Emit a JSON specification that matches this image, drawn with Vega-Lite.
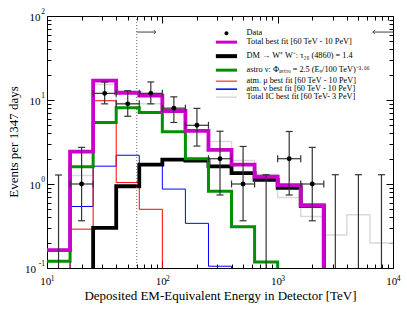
{
  "$schema": "https://vega.github.io/schema/vega-lite/v6.json",
  "width": 346,
  "height": 252,
  "autosize": "none",
  "padding": {"left": 47, "top": 16, "right": 14, "bottom": 47},
  "config": {
    "view": {"stroke": "black", "strokeWidth": 1},
    "font": "Liberation Serif",
    "axis": {"grid": false, "domain": false, "labelFont": "Liberation Serif", "titleFont": "Liberation Serif", "labelColor": "black", "tickColor": "black", "tickWidth": 1, "labelFlush": false, "labelOverlap": false, "labelBound": false}
  },
  "datasets": {
    "hist": [
      {"series": "IC", "E": 10, "events": 0.165}, {"series": "IC", "E": 15.85, "events": 1.26}, {"series": "IC", "E": 25.12, "events": 15.3}, {"series": "IC", "E": 39.81, "events": 9.1}, {"series": "IC", "E": 63.1, "events": 9.0}, {"series": "IC", "E": 100, "events": 7.8}, {"series": "IC", "E": 158.5, "events": 4.4}, {"series": "IC", "E": 251.2, "events": 3.2}, {"series": "IC", "E": 398.1, "events": 1.9}, {"series": "IC", "E": 631, "events": 1.3}, {"series": "IC", "E": 1000, "events": 0.69}, {"series": "IC", "E": 1585, "events": 0.41}, {"series": "IC", "E": 2512, "events": 0.247}, {"series": "IC", "E": 3981, "events": 0.43}, {"series": "IC", "E": 6310, "events": 0.198}, {"series": "IC", "E": 10000, "events": 0.198},
      {"series": "nu", "E": 10, "events": 0.01}, {"series": "nu", "E": 15.85, "events": 0.54}, {"series": "nu", "E": 25.12, "events": 1.63}, {"series": "nu", "E": 39.81, "events": 2.2}, {"series": "nu", "E": 63.1, "events": 1.68}, {"series": "nu", "E": 100, "events": 0.87}, {"series": "nu", "E": 158.5, "events": 0.34}, {"series": "nu", "E": 251.2, "events": 0.105}, {"series": "nu", "E": 398.1, "events": 0.01},
      {"series": "mu", "E": 10, "events": 0.01}, {"series": "mu", "E": 15.85, "events": 0.29}, {"series": "mu", "E": 25.12, "events": 9.8}, {"series": "mu", "E": 39.81, "events": 1.04}, {"series": "mu", "E": 63.1, "events": 0.5}, {"series": "mu", "E": 100, "events": 0.01},
      {"series": "astro", "E": 10, "events": 0.12}, {"series": "astro", "E": 15.85, "events": 1.61}, {"series": "astro", "E": 25.12, "events": 5.4}, {"series": "astro", "E": 39.81, "events": 8.1}, {"series": "astro", "E": 63.1, "events": 7.1}, {"series": "astro", "E": 100, "events": 4.2}, {"series": "astro", "E": 158.5, "events": 2.0}, {"series": "astro", "E": 251.2, "events": 0.82}, {"series": "astro", "E": 398.1, "events": 0.31}, {"series": "astro", "E": 631, "events": 0.118}, {"series": "astro", "E": 1000, "events": 0.01},
      {"series": "DM", "E": 15.85, "events": 0.01}, {"series": "DM", "E": 25.12, "events": 0.3}, {"series": "DM", "E": 39.81, "events": 0.94}, {"series": "DM", "E": 63.1, "events": 1.7}, {"series": "DM", "E": 100, "events": 1.95}, {"series": "DM", "E": 158.5, "events": 1.9}, {"series": "DM", "E": 251.2, "events": 1.62}, {"series": "DM", "E": 398.1, "events": 1.35}, {"series": "DM", "E": 631, "events": 1.12}, {"series": "DM", "E": 1000, "events": 0.9}, {"series": "DM", "E": 1585, "events": 0.55}, {"series": "DM", "E": 2512, "events": 0.01},
      {"series": "Total", "E": 10, "events": 0.163}, {"series": "Total", "E": 15.85, "events": 2.43}, {"series": "Total", "E": 25.12, "events": 17.0}, {"series": "Total", "E": 39.81, "events": 12.2}, {"series": "Total", "E": 63.1, "events": 11.3}, {"series": "Total", "E": 100, "events": 7.4}, {"series": "Total", "E": 158.5, "events": 4.3}, {"series": "Total", "E": 251.2, "events": 2.55}, {"series": "Total", "E": 398.1, "events": 1.7}, {"series": "Total", "E": 631, "events": 1.22}, {"series": "Total", "E": 1000, "events": 0.97}, {"series": "Total", "E": 1585, "events": 0.56}, {"series": "Total", "E": 2512, "events": 0.01}
    ],
    "obs": [
      {"E": 12.59, "lo": 10, "hi": 15.85, "n": null, "lower": 0.05, "upper": 1.28},
      {"E": 19.95, "lo": 15.85, "hi": 25.12, "n": 1, "lower": 0.365, "upper": 2.73},
      {"E": 31.62, "lo": 25.12, "hi": 39.81, "n": 12, "lower": 9.0, "upper": 16.4},
      {"E": 50.12, "lo": 39.81, "hi": 63.1, "n": 9, "lower": 6.4, "upper": 12.9},
      {"E": 79.43, "lo": 63.1, "hi": 100, "n": 12, "lower": 9.0, "upper": 16.4},
      {"E": 125.9, "lo": 100, "hi": 158.5, "n": 8, "lower": 5.4, "upper": 10.9},
      {"E": 199.5, "lo": 158.5, "hi": 251.2, "n": 5, "lower": 2.83, "upper": 7.95},
      {"E": 316.2, "lo": 251.2, "hi": 398.1, "n": 2, "lower": 0.74, "upper": 4.25},
      {"E": 501.2, "lo": 398.1, "hi": 631, "n": 1, "lower": 0.365, "upper": 2.8},
      {"E": 794.3, "lo": 631, "hi": 1000, "n": null, "lower": 0.05, "upper": 1.29},
      {"E": 1259, "lo": 1000, "hi": 1585, "n": 2, "lower": 0.74, "upper": 4.22},
      {"E": 1995, "lo": 1585, "hi": 2512, "n": 1, "lower": 0.365, "upper": 2.73},
      {"E": 3162, "lo": 2512, "hi": 3981, "n": null, "lower": 0.05, "upper": 1.29},
      {"E": 5012, "lo": 3981, "hi": 6310, "n": null, "lower": 0.05, "upper": 1.29},
      {"E": 7943, "lo": 6310, "hi": 10000, "n": null, "lower": 0.05, "upper": 1.29}
    ],
    "arrows": [
      {"x": 60, "x2": 87.7, "y": 64.4, "dir": "right", "head": 87.7},
      {"x": 6680, "x2": 10000, "y": 64.4, "dir": "left", "head": 6680}
    ],
    "threshold": [{"E": 60}]
  },
  "layer": [
    {
      "data": {"name": "hist"},
      "transform": [{"filter": "datum.series === 'IC'"}],
      "mark": {"type": "line", "interpolate": "step-after", "strokeWidth": 1.5, "clip": true},
      "encoding": {
        "x": {"field": "E", "type": "quantitative", "scale": {"type": "log", "domain": [10, 10000]},
          "axis": {"orient": "bottom", "values": [10, 20, 30, 40, 50, 60, 70, 80, 90, 100, 200, 300, 400, 500, 600, 700, 800, 900, 1000, 2000, 3000, 4000, 5000, 6000, 7000, 8000, 9000, 10000],
            "tickSize": {"condition": {"test": "abs(log(datum.value)/LN10 - round(log(datum.value)/LN10)) < 1e-6", "value": -7}, "value": -4},
            "labelExpr": "abs(log(datum.value)/LN10 - round(log(datum.value)/LN10)) < 1e-6 ? '10' : ''",
            "labelFontSize": 11, "labelPadding": 14, "labelOffset": -1.7,
            "title": "Deposited EM-Equivalent Energy in Detector [TeV]", "titleFontSize": 13, "titleFontWeight": "normal", "titleX": 173, "titleY": 31.7, "titleBaseline": "alphabetic", "titleAlign": "center"}},
        "y": {"field": "events", "type": "quantitative", "scale": {"type": "log", "domain": [0.1, 100]},
          "axis": {"orient": "left", "values": [0.1, 0.2, 0.3, 0.4, 0.5, 0.6, 0.7, 0.8, 0.9, 1, 2, 3, 4, 5, 6, 7, 8, 9, 10, 20, 30, 40, 50, 60, 70, 80, 90, 100],
            "tickSize": {"condition": {"test": "abs(log(datum.value)/LN10 - round(log(datum.value)/LN10)) < 1e-6", "value": -7}, "value": -4},
            "labelExpr": "abs(log(datum.value)/LN10 - round(log(datum.value)/LN10)) < 1e-6 ? '10' : ''",
            "labelFontSize": 11, "labelPadding": {"condition": {"test": "datum.value < 0.5", "value": 18.5}, "value": 14}, "labelOffset": 1,
            "title": "Events per 1347 days", "titleFontSize": 13, "titleFontWeight": "normal", "titleX": -34, "titleY": 125.5, "titleBaseline": "middle", "titleAlign": "center", "titleAngle": 270}},
        "color": {"field": "series", "type": "nominal",
          "scale": {"domain": ["Data", "Total", "DM", "astro", "mu", "nu", "IC"], "range": ["black", "#cc00cc", "black", "#009000", "#ff0000", "#0000ff", "#d9d9d9"]},
          "legend": {"orient": "none", "legendX": 165.3, "legendY": 13, "title": null, "padding": 0, "symbolType": "stroke", "symbolSize": 16, "symbolStrokeWidth": 0, "symbolOffset": 10, "labelFont": "Liberation Serif", "labelFontSize": 8.3, "labelColor": "black", "labelOffset": 16, "rowPadding": -1, "labelLimit": 0,
            "labelExpr": "{'Data': 'Data', 'Total': 'Total best fit [60 TeV - 10 PeV]', 'DM': 'DM \u2192 W\u207a W\u207b:  \u03c4\u2082\u2088 (4860) = 1.4', 'astro': 'astro \u03bd: \u03a6\u2090\u209b\u209c\u1d63\u2092 = 2.5 (E\u1d65/100 TeV)\u207b\u00b3\u00b7\u2076\u2076', 'mu': 'atm. \u03bc best fit [60 TeV - 10 PeV]', 'nu': 'atm. \u03bd best fit [60 TeV - 10 PeV]', 'IC': 'Total IC best fit [60 TeV- 3 PeV]'}[datum.value]",
            "encode": {"symbols": {"update": {
              "size": {"value": 16},
              "shape": {"signal": "datum.value === 'Data' ? 'M-1,0A1,1 0 1,0 1,0A1,1 0 1,0 -1,0Z' : 'M-5.3,0H5.3'"},
              "strokeWidth": {"signal": "datum.value === 'Data' ? 0 : datum.value === 'DM' ? 4 : (datum.value === 'Total' || datum.value === 'astro') ? 3 : datum.value === 'mu' ? 1 : 1.5"},
              "fill": {"signal": "datum.value === 'Data' ? 'black' : 'transparent'"},
              "stroke": {"signal": "scale('color', datum.value)"},
              "opacity": {"value": 1}
            }}}}}
      }
    },
    {
      "data": {"name": "hist"},
      "transform": [{"filter": "datum.series === 'nu'"}],
      "mark": {"type": "line", "interpolate": "step-after", "strokeWidth": 1, "clip": true},
      "encoding": {
        "x": {"field": "E", "type": "quantitative",
          "axis": {"orient": "bottom", "values": [10, 100, 1000, 10000], "ticks": false, "labelExpr": "'' + round(log(datum.value)/LN10)", "labelFontSize": 7.5, "labelPadding": 6.8, "labelOffset": 5, "title": null}},
        "y": {"field": "events", "type": "quantitative",
          "axis": {"orient": "left", "values": [0.1, 1, 10, 100], "ticks": false, "labelExpr": "'' + round(log(datum.value)/LN10)", "labelFontSize": 7.5, "labelPadding": 2.5, "labelOffset": -4.5, "title": null}},
        "color": {"field": "series", "type": "nominal"}
      }
    },
    {
      "data": {"name": "hist"},
      "transform": [{"filter": "datum.series === 'mu'"}],
      "mark": {"type": "line", "interpolate": "step-after", "strokeWidth": 1, "clip": true},
      "encoding": {
        "x": {"field": "E", "type": "quantitative",
          "axis": {"orient": "top", "values": [10, 20, 30, 40, 50, 60, 70, 80, 90, 100, 200, 300, 400, 500, 600, 700, 800, 900, 1000, 2000, 3000, 4000, 5000, 6000, 7000, 8000, 9000, 10000],
            "tickSize": {"condition": {"test": "abs(log(datum.value)/LN10 - round(log(datum.value)/LN10)) < 1e-6", "value": -7}, "value": -4}, "labels": false, "title": null}},
        "y": {"field": "events", "type": "quantitative",
          "axis": {"orient": "right", "values": [0.1, 0.2, 0.3, 0.4, 0.5, 0.6, 0.7, 0.8, 0.9, 1, 2, 3, 4, 5, 6, 7, 8, 9, 10, 20, 30, 40, 50, 60, 70, 80, 90, 100],
            "tickSize": {"condition": {"test": "abs(log(datum.value)/LN10 - round(log(datum.value)/LN10)) < 1e-6", "value": -7}, "value": -4}, "labels": false, "title": null}},
        "color": {"field": "series", "type": "nominal"}
      }
    },
    {
      "data": {"name": "hist"},
      "transform": [{"filter": "datum.series === 'DM'"}],
      "mark": {"type": "line", "interpolate": "step-after", "strokeWidth": 3.8, "clip": true},
      "encoding": {
        "x": {"field": "E", "type": "quantitative", "axis": null},
        "y": {"field": "events", "type": "quantitative", "axis": null},
        "color": {"field": "series", "type": "nominal"}
      }
    },
    {
      "data": {"name": "hist"},
      "transform": [{"filter": "datum.series === 'astro'"}],
      "mark": {"type": "line", "interpolate": "step-after", "strokeWidth": 3, "clip": true},
      "encoding": {
        "x": {"field": "E", "type": "quantitative", "axis": null},
        "y": {"field": "events", "type": "quantitative", "axis": null},
        "color": {"field": "series", "type": "nominal"}
      }
    },
    {
      "data": {"name": "hist"},
      "transform": [{"filter": "datum.series === 'Total'"}],
      "mark": {"type": "line", "interpolate": "step-after", "strokeWidth": 3.8, "clip": true},
      "encoding": {
        "x": {"field": "E", "type": "quantitative", "axis": null},
        "y": {"field": "events", "type": "quantitative", "axis": null},
        "color": {"field": "series", "type": "nominal"}
      }
    },
    {
      "data": {"name": "threshold"},
      "mark": {"type": "rule", "color": "#666666", "strokeWidth": 1, "strokeDash": [1, 2]},
      "encoding": {"x": {"field": "E", "type": "quantitative", "axis": null}}
    },
    {
      "data": {"name": "arrows"},
      "mark": {"type": "rule", "color": "#444444", "strokeWidth": 1, "clip": true},
      "encoding": {
        "x": {"field": "x", "type": "quantitative", "axis": null},
        "x2": {"field": "x2"},
        "y": {"field": "y", "type": "quantitative", "axis": null}
      }
    },
    {
      "data": {"name": "arrows"},
      "mark": {"type": "point", "filled": false, "color": "#444444", "strokeWidth": 1, "size": 16, "opacity": 1},
      "encoding": {
        "x": {"field": "head", "type": "quantitative", "axis": null},
        "y": {"field": "y", "type": "quantitative", "axis": null},
        "shape": {"field": "dir", "type": "nominal", "scale": {"domain": ["right", "left"], "range": ["M-1,-1L0,0L-1,1", "M1,-1L0,0L1,1"]}, "legend": null}
      }
    },
    {
      "data": {"name": "obs"},
      "mark": {"type": "rule", "color": "#333333", "strokeWidth": 1.2, "clip": true},
      "encoding": {
        "x": {"field": "E", "type": "quantitative", "axis": null},
        "y": {"field": "lower", "type": "quantitative", "axis": null},
        "y2": {"field": "upper"}
      }
    },
    {
      "data": {"name": "obs"},
      "mark": {"type": "point", "shape": "stroke", "filled": false, "color": "#333333", "strokeWidth": 1.2, "size": 49, "opacity": 1, "clip": true},
      "encoding": {
        "x": {"field": "E", "type": "quantitative", "axis": null},
        "y": {"field": "upper", "type": "quantitative", "axis": null}
      }
    },
    {
      "data": {"name": "obs"},
      "transform": [{"filter": "datum.n != null"}],
      "mark": {"type": "point", "shape": "stroke", "filled": false, "color": "#333333", "strokeWidth": 1.2, "size": 49, "opacity": 1, "clip": true},
      "encoding": {
        "x": {"field": "E", "type": "quantitative", "axis": null},
        "y": {"field": "lower", "type": "quantitative", "axis": null}
      }
    },
    {
      "data": {"name": "obs"},
      "transform": [{"filter": "datum.n != null"}],
      "mark": {"type": "rule", "color": "#333333", "strokeWidth": 1.2, "clip": true},
      "encoding": {
        "x": {"field": "lo", "type": "quantitative", "axis": null},
        "x2": {"field": "hi"},
        "y": {"field": "n", "type": "quantitative", "axis": null}
      }
    },
    {
      "data": {"name": "obs"},
      "transform": [{"filter": "datum.n != null"}],
      "mark": {"type": "point", "shape": "M0,-1L0,1", "filled": false, "color": "#333333", "strokeWidth": 1.2, "size": 49, "opacity": 1, "clip": true},
      "encoding": {
        "x": {"field": "lo", "type": "quantitative", "axis": null},
        "y": {"field": "n", "type": "quantitative", "axis": null}
      }
    },
    {
      "data": {"name": "obs"},
      "transform": [{"filter": "datum.n != null"}],
      "mark": {"type": "point", "shape": "M0,-1L0,1", "filled": false, "color": "#333333", "strokeWidth": 1.2, "size": 49, "opacity": 1, "clip": true},
      "encoding": {
        "x": {"field": "hi", "type": "quantitative", "axis": null},
        "y": {"field": "n", "type": "quantitative", "axis": null}
      }
    },
    {
      "data": {"name": "obs"},
      "transform": [{"filter": "datum.n != null"}],
      "mark": {"type": "point", "filled": true, "size": 24, "opacity": 1, "shape": "circle"},
      "encoding": {
        "x": {"field": "E", "type": "quantitative", "axis": null},
        "y": {"field": "n", "type": "quantitative", "axis": null},
        "color": {"datum": "Data", "type": "nominal"}
      }
    }
  ],
  "resolve": {"axis": {"x": "independent", "y": "independent"}}
}
